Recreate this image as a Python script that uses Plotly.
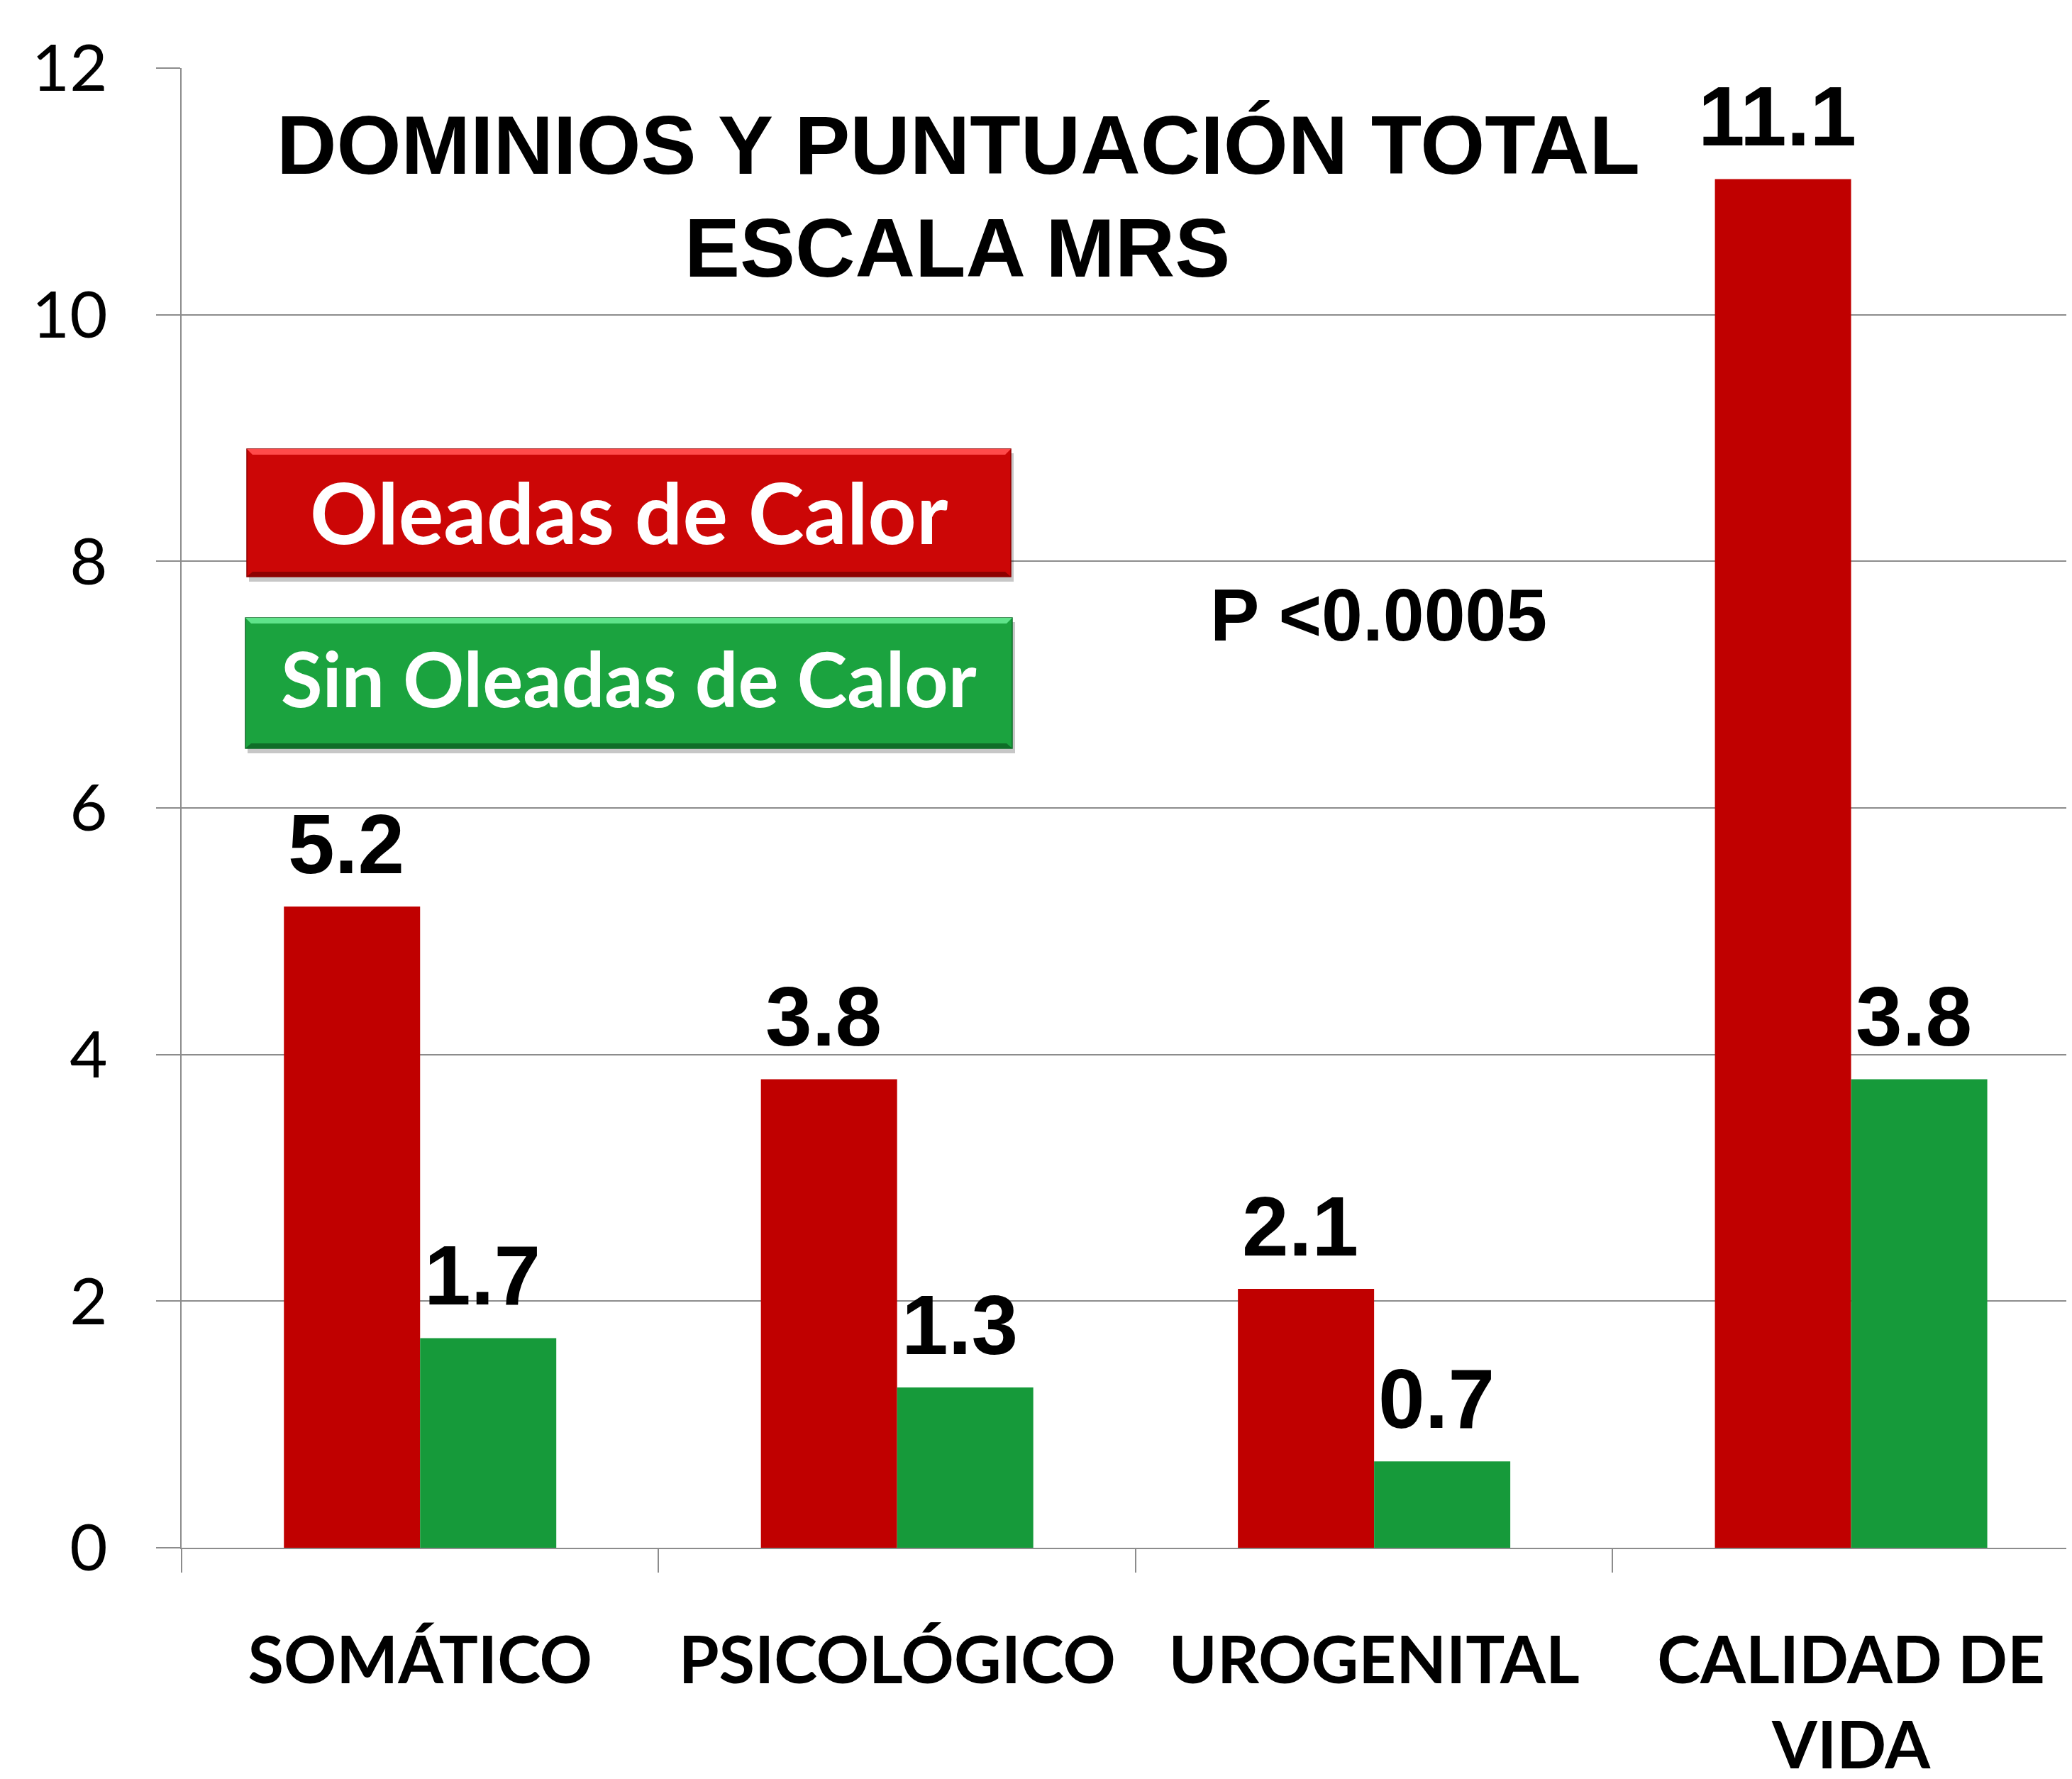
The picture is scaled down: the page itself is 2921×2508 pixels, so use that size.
import plotly.graph_objects as go

# ---------------- data ----------------
categories = ["SOMÁTICO", "PSICOLÓGICO", "UROGENITAL", "CALIDAD DE VIDA"]
category_labels = ["SOMÁTICO", "PSICOLÓGICO", "UROGENITAL", "CALIDAD DE<br>VIDA"]
oleadas = [5.2, 3.8, 2.1, 11.1]
sin_oleadas = [1.7, 1.3, 0.7, 3.8]
y_ticks = [0, 2, 4, 6, 8, 10, 12]
series_names = ["Oleadas de Calor", "Sin Oleadas de Calor"]
title_lines = ["DOMINIOS Y PUNTUACIÓN TOTAL", "ESCALA MRS"]
p_text = "P <0.0005"

# ---------------- geometry helpers ----------------
W, H = 2921, 2508
L, R, T, B = 248, 0, 88, 334
PW, PH = W - L - R, H - T - B


def px(x):
    return (x - L) / PW


def py(y):
    return (H - B - y) / PH


RED = "#C00000"
GREEN = "#169A3A"
GRID = "#8C8C8C"
BARGAP = 0.429
BAR_W = (1 - BARGAP) / 2

fig = go.Figure()
for vals, name, color in [(oleadas, series_names[0], RED), (sin_oleadas, series_names[1], GREEN)]:
    fig.add_trace(go.Bar(x=categories, y=vals, name=name, marker_color=color,
                         marker_line_width=0))

shapes = []
annotations = []

# data labels (placed at the bar tops through the axis scales)
for k, vals in enumerate([oleadas, sin_oleadas]):
    off = -BAR_W / 2 if k == 0 else BAR_W / 2
    for i, v in enumerate(vals):
        annotations.append(dict(xref="x", yref="y", x=i + off, y=v,
                                text=f"<b>{v:.1f}</b>", showarrow=False,
                                xanchor="center", yanchor="bottom", yshift=20, xshift=-8,
                                font=dict(family="Liberation Sans", size=118, color="black")))


def legend_box(x0, y0, x1, y1, fill, light, dark, label, ty, fs):
    shapes.append(dict(type="rect", xref="paper", yref="paper",
                       x0=px(x0 + 3), x1=px(x1 + 4), y0=py(y1 + 7), y1=py(y0 + 6),
                       fillcolor="rgba(0,0,0,0.22)", line_width=0, layer="above"))
    shapes.append(dict(type="rect", xref="paper", yref="paper",
                       x0=px(x0), x1=px(x1), y0=py(y1), y1=py(y0),
                       fillcolor=fill, line=dict(color=dark, width=1.5), layer="above"))
    shapes.append(dict(type="path", xref="paper", yref="paper",
                       path=f"M {px(x0)} {py(y0)} L {px(x1)} {py(y0)} L {px(x1-8)} {py(y0+8)} L {px(x0+8)} {py(y0+8)} Z",
                       fillcolor=light, line_width=0, layer="above"))
    shapes.append(dict(type="path", xref="paper", yref="paper",
                       path=f"M {px(x0)} {py(y1)} L {px(x1)} {py(y1)} L {px(x1-8)} {py(y1-7)} L {px(x0+8)} {py(y1-7)} Z",
                       fillcolor=dark, line_width=0, layer="above"))
    annotations.append(dict(xref="paper", yref="paper", x=px((x0 + x1) / 2), y=py(ty),
                            text=f"<b>{label}</b>", showarrow=False,
                            xanchor="center", yanchor="middle",
                            font=dict(family="Lato", size=fs, color="white")))


legend_box(340, 625, 1417, 805, "#CC0606", "#FF4A4A", "#8E0000", series_names[0], 713, 119)
legend_box(338, 863, 1419, 1047, "#1BA33F", "#5FE38A", "#0F6E28", series_names[1], 947, 107)

annotations.append(dict(xref="paper", yref="paper", x=px(1343), y=py(196), text=f"<b>{title_lines[0]}</b>",
                        showarrow=False, xanchor="center", yanchor="middle",
                        font=dict(family="Liberation Sans", size=117, color="black")))
annotations.append(dict(xref="paper", yref="paper", x=px(1341), y=py(341), text=f"<b>{title_lines[1]}</b>",
                        showarrow=False, xanchor="center", yanchor="middle",
                        font=dict(family="Liberation Sans", size=117, color="black")))
annotations.append(dict(xref="paper", yref="paper", x=px(1935), y=py(859), text=f"<b>{p_text}</b>",
                        showarrow=False, xanchor="center", yanchor="middle",
                        font=dict(family="Liberation Sans", size=104, color="black")))

fig.update_layout(
    width=W, height=H,
    margin=dict(l=L, r=R, t=T, b=B, autoexpand=False),
    paper_bgcolor="white", plot_bgcolor="white",
    barmode="group", bargap=BARGAP, bargroupgap=0,
    showlegend=False,
    shapes=shapes, annotations=annotations,
    xaxis=dict(
        type="category", range=[-0.5, 3.475],
        tickmode="array", tickvals=categories, ticktext=category_labels,
        tickson="boundaries", ticks="outside", ticklen=33, tickwidth=2, tickcolor=GRID,
        showline=True, linecolor=GRID, linewidth=2,
        showgrid=False, automargin=False,
        tickfont=dict(family="Lato", size=92, color="black", weight="bold"),
        ticklabelstandoff=79,
    ),
    yaxis=dict(
        range=[0, 12], tickvals=y_ticks, ticks="outside", ticklen=34, tickwidth=2, tickcolor=GRID,
        showline=True, linecolor=GRID, linewidth=2,
        showgrid=True, gridcolor=GRID, gridwidth=2, zeroline=False, automargin=False,
        tickfont=dict(family="Lato", size=92, color="black"),
        ticklabelstandoff=50,
    ),
)

fig.write_html("out.html")
